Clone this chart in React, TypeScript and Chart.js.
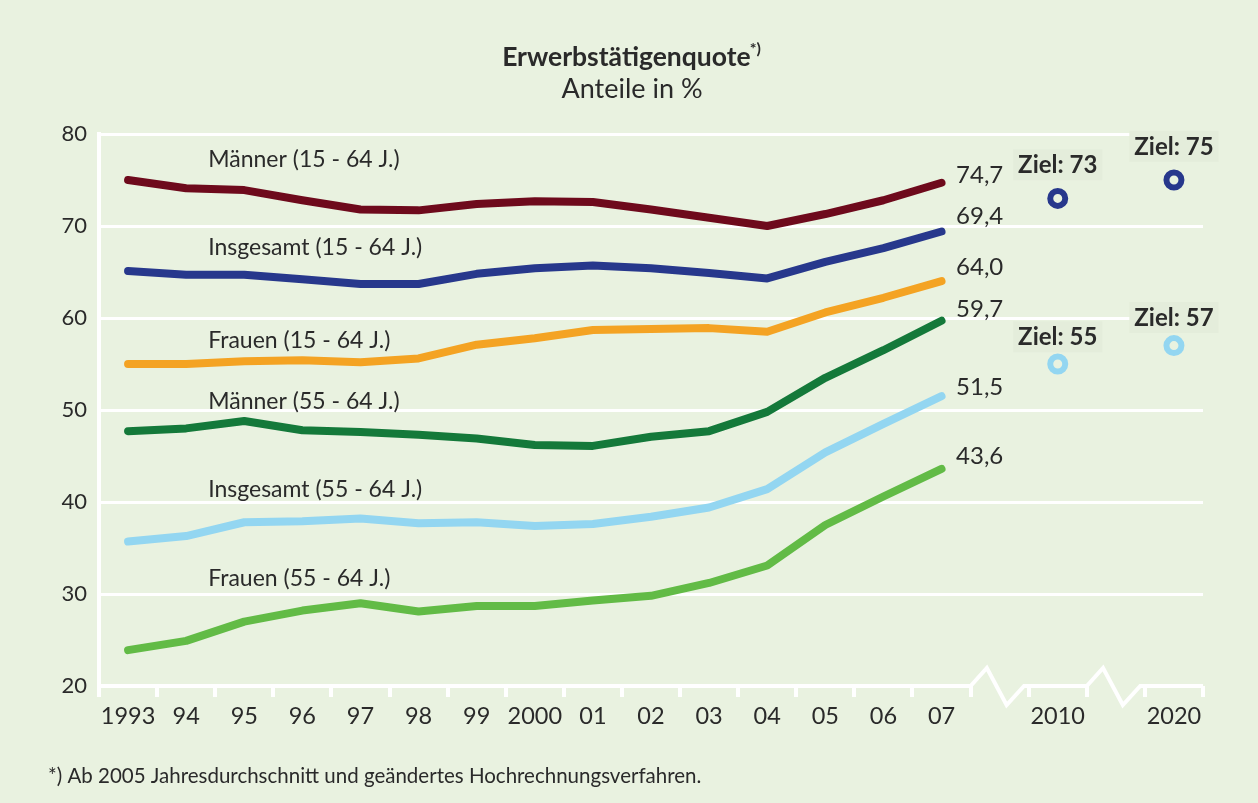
import React, { useEffect, useRef } from 'react';
import { Chart, registerables } from 'chart.js';

Chart.register(...registerables);

// ---------- data ----------
const categories = ['1993', '94', '95', '96', '97', '98', '99', '2000', '01', '02', '03', '04', '05', '06', '07', '', '2010', '', '2020'];
const yMin = 20;
const yMax = 80;
const yStep = 10;

const maenner1564 = [75.0, 74.1, 73.9, 72.8, 71.8, 71.7, 72.4, 72.7, 72.6, 71.8, 70.9, 70.0, 71.3, 72.8, 74.7];
const insgesamt1564 = [65.1, 64.7, 64.7, 64.2, 63.7, 63.7, 64.8, 65.4, 65.7, 65.4, 64.9, 64.3, 66.1, 67.6, 69.4];
const frauen1564 = [55.0, 55.0, 55.3, 55.4, 55.2, 55.6, 57.1, 57.8, 58.7, 58.8, 58.9, 58.5, 60.6, 62.2, 64.0];
const maenner5564 = [47.7, 48.0, 48.8, 47.8, 47.6, 47.3, 46.9, 46.2, 46.1, 47.1, 47.7, 49.8, 53.5, 56.5, 59.7];
const insgesamt5564 = [35.7, 36.3, 37.8, 37.9, 38.2, 37.7, 37.8, 37.4, 37.6, 38.4, 39.4, 41.4, 45.4, 48.5, 51.5];
const frauen5564 = [23.9, 24.9, 27.0, 28.2, 29.0, 28.1, 28.7, 28.7, 29.3, 29.8, 31.2, 33.1, 37.5, 40.6, 43.6];

const seriesNames = ['Männer (15 - 64 J.)', 'Insgesamt (15 - 64 J.)', 'Frauen (15 - 64 J.)', 'Männer (55 - 64 J.)', 'Insgesamt (55 - 64 J.)', 'Frauen (55 - 64 J.)'];
const seriesColors = ['#6e0a1c', '#27388c', '#f4a323', '#14793a', '#93d6f1', '#62bb46'];
const nameLabelIndex = 1.38;
const nameLabelY = [77.2, 67.7, 57.6, 50.9, 41.4, 31.7];
const endLabelIndex = 14.25;
const endLabelY = [75.5, 71.1, 65.5, 60.9, 52.5, 45.0];

const zielYears = ['2010', '2020'];
const zielInsgesamt1564 = [73, 75];
const zielInsgesamt5564 = [55, 57];
const zielLabelY1564 = [76.6, 78.6];
const zielLabelY5564 = [57.9, 60.0];
const zielColors = ['#27388c', '#93d6f1'];

const titleText = 'Erwerbstätigenquote';
const titleSup = '*)';
const subtitleText = 'Anteile in %';
const footnoteText = '*) Ab 2005 Jahresdurchschnitt und geändertes Hochrechnungsverfahren.';

// ---------- style ----------
const BG = '#e9f2e0';
const BOX = '#e4eddb';
const TEXT = '#2a2a2a';
const FONT = 'Lato, "Open Sans", sans-serif';

const fmt = (v: number) => v.toFixed(1).replace('.', ',');

const decorPlugin = {
  id: 'decor',
  beforeDraw(chart: any) {
    const ctx = chart.ctx;
    ctx.save();
    ctx.fillStyle = BG;
    ctx.fillRect(0, 0, chart.width, chart.height);
    ctx.restore();
  },
  afterDraw(chart: any) {
    const ctx = chart.ctx;
    const xs = chart.scales.x;
    const ys = chart.scales.y;
    ctx.save();

    // broken x axis line
    const ay = ys.getPixelForValue(yMin);
    const w = xs.getPixelForValue(1) - xs.getPixelForValue(0);
    ctx.strokeStyle = '#ffffff';
    ctx.lineWidth = 4;
    ctx.lineJoin = 'miter';
    ctx.lineCap = 'butt';
    ctx.beginPath();
    ctx.moveTo(xs.getPixelForValue(-0.5) - 2, ay);
    const gaps = [15, 17];
    gaps.forEach((g) => {
      const L = xs.getPixelForValue(g - 0.5);
      ctx.lineTo(L, ay);
      ctx.lineTo(L + 0.28 * w, ay - 18);
      ctx.lineTo(L + 0.62 * w, ay + 19);
      ctx.lineTo(L + 0.92 * w, ay);
    });
    ctx.lineTo(xs.getPixelForValue(categories.length - 0.5), ay);
    ctx.stroke();

    // series name labels
    ctx.fillStyle = TEXT;
    ctx.textBaseline = 'middle';
    ctx.textAlign = 'left';
    ctx.font = `400 23px ${FONT}`;
    seriesNames.forEach((n, i) => {
      ctx.fillText(n, xs.getPixelForValue(nameLabelIndex), ys.getPixelForValue(nameLabelY[i]));
    });

    // end value labels
    ctx.font = `400 24px ${FONT}`;
    const all = [maenner1564, insgesamt1564, frauen1564, maenner5564, insgesamt5564, frauen5564];
    all.forEach((arr, i) => {
      ctx.fillText(fmt(arr[arr.length - 1]), xs.getPixelForValue(endLabelIndex), ys.getPixelForValue(endLabelY[i]));
    });

    // Ziel labels with boxes
    ctx.font = `700 24px ${FONT}`;
    ctx.textAlign = 'center';
    const drawZiel = (vals: number[], ly: number[]) => {
      vals.forEach((v, i) => {
        const cx = xs.getPixelForValue(categories.indexOf(zielYears[i]));
        const cy = ys.getPixelForValue(ly[i]);
        const t = `Ziel: ${v}`;
        const tw = ctx.measureText(t).width;
        ctx.fillStyle = BOX;
        ctx.fillRect(cx - tw / 2 - 5, cy - 16, tw + 10, 31);
        ctx.fillStyle = TEXT;
        ctx.fillText(t, cx, cy);
      });
    };
    drawZiel(zielInsgesamt1564, zielLabelY1564);
    drawZiel(zielInsgesamt5564, zielLabelY5564);

    // title
    ctx.font = `700 26.5px ${FONT}`;
    const tw = ctx.measureText(titleText).width;
    ctx.font = `700 16px ${FONT}`;
    const sw = ctx.measureText(titleSup).width;
    const tx = 632 - (tw + sw) / 2;
    ctx.textAlign = 'left';
    ctx.font = `700 26.5px ${FONT}`;
    ctx.fillText(titleText, tx, 57);
    ctx.font = `700 16px ${FONT}`;
    ctx.fillText(titleSup, tx + tw - 1, 49);
    ctx.textAlign = 'center';
    ctx.font = `400 27px ${FONT}`;
    ctx.fillText(subtitleText, 632, 89);

    // footnote
    ctx.textAlign = 'left';
    ctx.font = `400 20.5px ${FONT}`;
    ctx.fillText(footnoteText, 48, 776);

    ctx.restore();
  },
};

export default function App() {
  const ref = useRef<HTMLCanvasElement | null>(null);

  useEffect(() => {
    document.body.style.margin = '0';
    document.body.style.background = BG;
    const canvas = ref.current;
    if (!canvas) return;

    const lineSets = [maenner1564, insgesamt1564, frauen1564, maenner5564, insgesamt5564, frauen5564].map((d, i) => ({
      label: seriesNames[i],
      data: d,
      borderColor: seriesColors[i],
      backgroundColor: seriesColors[i],
      borderWidth: 8,
      borderCapStyle: 'round',
      borderJoinStyle: 'round',
      pointRadius: 0,
      tension: 0,
      fill: false,
    }));

    const zielSets = [zielInsgesamt1564, zielInsgesamt5564].map((vals, i) => ({
      label: `Ziel ${i}`,
      data: vals.map((v, j) => ({ x: zielYears[j], y: v })),
      showLine: false,
      borderColor: zielColors[i],
      backgroundColor: BG,
      pointRadius: 7.5,
      pointBorderWidth: 6,
      pointStyle: 'circle',
    }));

    const chart = new Chart(canvas, {
      type: 'line',
      data: { labels: categories, datasets: [...lineSets, ...zielSets] as any },
      options: {
        responsive: false,
        animation: false,
        layout: { padding: { left: 39, right: 55, top: 134, bottom: 57 } },
        plugins: { legend: { display: false }, tooltip: { enabled: false }, title: { display: false } },
        scales: {
          x: {
            type: 'category',
            offset: true,
            afterFit: (s: any) => { s.height = 60; },
            grid: { offset: true, drawOnChartArea: false, drawTicks: true, tickLength: 11, color: '#ffffff', lineWidth: 4 },
            border: { display: false },
            ticks: { color: TEXT, font: { family: FONT, size: 23.5 }, padding: 5, maxRotation: 0, autoSkip: false },
          },
          y: {
            min: yMin,
            max: yMax,
            afterFit: (s: any) => { s.width = 60; },
            grid: {
              drawTicks: false,
              lineWidth: 3,
              color: (c: any) => (c.tick && c.tick.value === yMin ? 'rgba(0,0,0,0)' : '#ffffff'),
            },
            border: { display: true, color: '#ffffff', width: 4 },
            ticks: { stepSize: yStep, color: TEXT, font: { family: FONT, size: 22 }, padding: 12 },
          },
        },
      },
      plugins: [decorPlugin],
    } as any);

    return () => chart.destroy();
  }, []);

  return (
    <div style={{ width: 1258, height: 803, background: BG }}>
      <canvas ref={ref} width={1258} height={803} style={{ display: 'block' }} />
    </div>
  );
}
